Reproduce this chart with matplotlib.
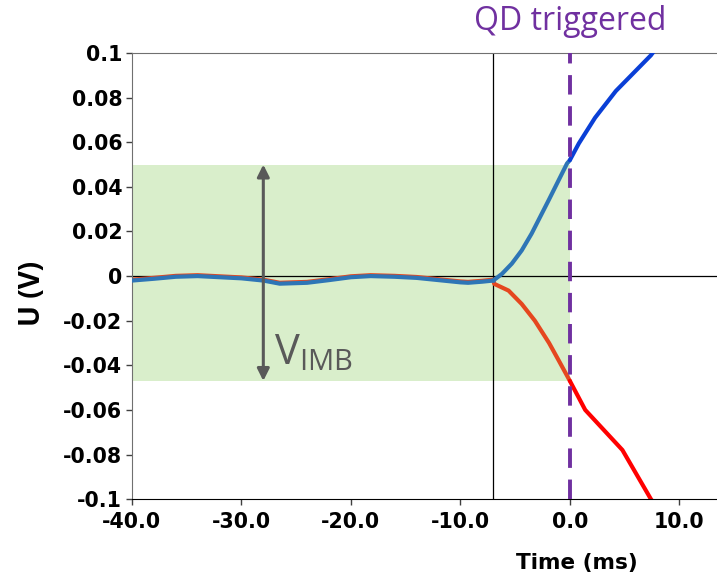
import numpy as np
import matplotlib.pyplot as plt
from matplotlib.ticker import FixedLocator

# Pre-trigger signal (both channels overlap)
t_pre = [-40, -38, -36, -34, -32, -30, -28, -26.5, -24, -22, -20, -18.2, -16, -14, -12, -10, -9.3, -8, -7]
u_pre = [-0.002, -0.0012, -0.0003, 0.0, -0.0005, -0.001, -0.002, -0.0034, -0.003, -0.0018, -0.0005, 0.0,
         -0.0003, -0.0008, -0.0018, -0.0028, -0.003, -0.0025, -0.002]

# Post-divergence, blue channel
t_blue = [-7, -6.2, -5.3, -4.4, -3.5, -1.94, -0.26, 0.0, 0.82, 2.3, 4.2, 6.0, 7.4, 8.0]
u_blue = [-0.002, 0.001, 0.0056, 0.0115, 0.019, 0.034, 0.0505, 0.052, 0.0595, 0.071, 0.083, 0.092, 0.099, 0.103]

# Post-divergence, red channel
t_red = [-7, -6.9, -5.6, -4.4, -3.2, -1.9, -1.0, 0.0, 1.4, 4.8, 7.4, 8.0]
u_red = [-0.002, -0.0035, -0.0065, -0.0125, -0.02, -0.030, -0.038, -0.047, -0.060, -0.078, -0.1, -0.104]

x_ticks = [-40, -30, -20, -10, 0, 10]
x_ticklabels = ['-40.0', '-30.0', '-20.0', '-10.0', '0.0', '10.0']
y_ticks = [0.1, 0.08, 0.06, 0.04, 0.02, 0, -0.02, -0.04, -0.06, -0.08, -0.1]
y_ticklabels = ['0.1', '0.08', '0.06', '0.04', '0.02', '0', '-0.02', '-0.04', '-0.06', '-0.08', '-0.1']

band_top, band_bottom = 0.05, -0.047
t_event, t_qd = -7, 0

fig = plt.figure(figsize=(7.17, 5.77), dpi=100)
ax = fig.add_axes([0.184, 0.135, 0.82, 0.773])

ax.set_xlim(-40, 13.7)
ax.set_ylim(-0.1, 0.1)

# green imbalance band
ax.fill_between([-40, t_qd], band_bottom, band_top, color='#d9eecb', zorder=0, linewidth=0)

ax.axhline(0, color='black', lw=0.9, zorder=1)
ax.axvline(t_event, color='black', lw=0.9, zorder=1)

t_blue = np.array(t_blue); u_blue = np.array(u_blue)
t_red = np.array(t_red); u_red = np.array(u_red)

# inside band the traces look muted, outside they are saturated
m = t_blue <= 0
ax.plot(t_blue[m], u_blue[m], color='#2e75b6', lw=3, zorder=3, solid_capstyle='round')
ax.plot(t_blue[t_blue >= 0], u_blue[t_blue >= 0], color='#0a3fd6', lw=3, zorder=3, solid_capstyle='round')
m = t_red <= 0
ax.plot(t_red[m], u_red[m], color='#e5471f', lw=3, zorder=2, solid_capstyle='round')
ax.plot(t_red[t_red >= 0], u_red[t_red >= 0], color='#ff0000', lw=3, zorder=2, solid_capstyle='round')
ax.plot(t_pre, np.array(u_pre) + 0.0004, color='#e5471f', lw=3, zorder=2)
ax.plot(t_pre, u_pre, color='#2e75b6', lw=3, zorder=3)

ax.axvline(t_qd, color='#7030a0', lw=2.8, dashes=(5, 3), zorder=4)

# imbalance arrow
ax.annotate('', xy=(-28, band_top), xytext=(-28, band_bottom),
            arrowprops=dict(arrowstyle='<|-|>', color='#595959', lw=2.2,
                            mutation_scale=18, shrinkA=0, shrinkB=0), zorder=5)
ax.text(-27, -0.0395, r'V$_{\mathregular{IMB}}$', fontsize=30, color='#595959',
        family='Open Sans', va='baseline')

ax.text(t_qd, 1.07, 'QD triggered', transform=ax.get_xaxis_transform(),
        ha='center', va='center', fontsize=23, color='#7030a0', family='Open Sans')

ax.xaxis.set_major_locator(FixedLocator(x_ticks))
ax.set_xticklabels(x_ticklabels, fontsize=14.8, fontweight='bold', family='DejaVu Sans')
ax.yaxis.set_major_locator(FixedLocator(y_ticks))
ax.set_yticklabels(y_ticklabels, fontsize=14.8, fontweight='bold', family='DejaVu Sans')
ax.tick_params(axis='x', length=4, width=1, color='#404040', pad=5)
ax.tick_params(axis='y', length=4, width=1, color='#404040', pad=3)

ax.set_ylabel('U (V)', fontsize=20, fontweight='bold', family='Open Sans')
ax.yaxis.set_label_coords(-0.145, 0.46)
ax.set_xlabel('Time (ms)', fontsize=15.5, fontweight='bold', family='DejaVu Sans')
ax.xaxis.set_label_coords(0.756, -0.12)

ax.spines['right'].set_visible(False)
ax.spines['top'].set_color('#707070')
ax.spines['left'].set_color('#707070')
ax.spines['bottom'].set_color('black')

fig.savefig('out.png', dpi=100)
